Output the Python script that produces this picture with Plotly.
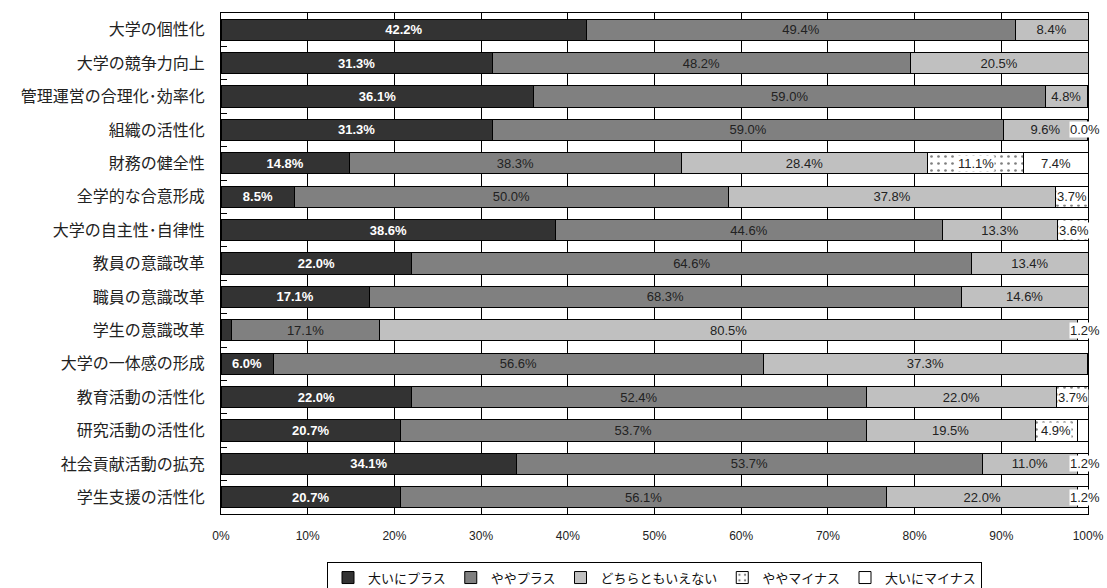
import plotly.graph_objects as go

categories = ["大学の個性化", "大学の競争力向上", "管理運営の合理化･効率化", "組織の活性化",
              "財務の健全性", "全学的な合意形成", "大学の自主性･自律性", "教員の意識改革",
              "職員の意識改革", "学生の意識改革", "大学の一体感の形成", "教育活動の活性化",
              "研究活動の活性化", "社会貢献活動の拡充", "学生支援の活性化"]
series_names = ["大いにプラス", "ややプラス", "どちらともいえない", "ややマイナス", "大いにマイナス"]
s1 = [42.2, 31.3, 36.1, 31.3, 14.8, 8.5, 38.6, 22.0, 17.1, 1.2, 6.0, 22.0, 20.7, 34.1, 20.7]
s2 = [49.4, 48.2, 59.0, 59.0, 38.3, 50.0, 44.6, 64.6, 68.3, 17.1, 56.6, 52.4, 53.7, 53.7, 56.1]
s3 = [8.4, 20.5, 4.8, 9.6, 28.4, 37.8, 13.3, 13.4, 14.6, 80.5, 37.3, 22.0, 19.5, 11.0, 22.0]
s4 = [None, None, None, None, 11.1, 3.7, 3.6, None, None, None, None, 3.7, 4.9, None, None]
s5 = [None, None, None, 0.0, 7.4, None, None, None, None, 1.2, None, None, 1.2, 1.2, 1.2]
hidden_labels = [(0, 9), (4, 12)]  # (series index, category index) without a label
x_ticks = [0, 10, 20, 30, 40, 50, 60, 70, 80, 90, 100]

series = [s1, s2, s3, s4, s5]
colors = ["#333333", "#808080", "#C0C0C0", "#FFFFFF", "#FFFFFF"]
lab_font = "Liberation Sans, Arial, sans-serif"
jp_font = "Noto Sans CJK JP, sans-serif"
LABEL_MAX_X = 97.8  # keep outside labels inside the figure

fig = go.Figure()
for si, (name, vals, col) in enumerate(zip(series_names, series, colors)):
    texts = []
    for ci, v in enumerate(vals):
        if v is None or si >= 3 or (si, ci) in hidden_labels:
            texts.append("")
        else:
            texts.append(f"{v:.1f}%")
    marker = dict(color=col, line=dict(color="#000000", width=1))
    if si == 3:
        marker["pattern"] = dict(shape=".", fgcolor="#000000", bgcolor="#FFFFFF",
                                 size=7, solidity=0.12)
    fig.add_trace(go.Bar(
        y=categories, x=[v if v is not None else 0 for v in vals], name=name,
        orientation="h", marker=marker, text=texts,
        textposition="inside", insidetextanchor="middle", textangle=0,
        textfont=dict(family=lab_font, size=13,
                      color="#FFFFFF" if si == 0 else "#222222",
                      weight="bold" if si == 0 else "normal"),
        hoverinfo="skip",
    ))

# labels for the minus series (white background boxes)
annotations = []
for ci, cat in enumerate(categories):
    start = s1[ci] + s2[ci] + s3[ci]
    for si in (3, 4):
        v = series[si][ci]
        if v is None:
            continue
        if (si, ci) not in hidden_labels:
            big = v >= 4
            annotations.append(dict(x=start + v / 2 if big else min(start, LABEL_MAX_X),
                                    y=cat, xref="x", yref="y",
                                    text=f"{v:.1f}%", showarrow=False,
                                    xanchor="center" if big else "left",
                                    bgcolor="#FFFFFF", borderpad=0,
                                    font=dict(family=lab_font, size=13, color="#222222")))
        start += v

fig.update_layout(
    barmode="stack",
    bargap=0.37,
    width=1107, height=588,
    margin=dict(l=221, r=19, t=13, b=74, autoexpand=False),
    paper_bgcolor="#FFFFFF", plot_bgcolor="#FFFFFF",
    uniformtext=dict(minsize=13, mode="show"),
    annotations=annotations,
    legend=dict(orientation="h", x=0.5, xanchor="center", y=-0.095, yanchor="top",
                bordercolor="#000000", borderwidth=1, bgcolor="#FFFFFF",
                font=dict(family=jp_font, size=13, color="#111111"),
                itemwidth=30, traceorder="normal"),
    xaxis=dict(range=[0, 100], tickvals=x_ticks, ticktext=[f"{t}%" for t in x_ticks],
               showgrid=True, gridcolor="#000000", gridwidth=1, automargin=False,
               showline=True, linecolor="#000000", linewidth=1, mirror=True,
               ticks="", zeroline=False, ticklabelstandoff=11,
               tickfont=dict(family=lab_font, size=12, color="#222222")),
    yaxis=dict(autorange="reversed", showgrid=False, automargin=False,
               showline=True, linecolor="#000000", linewidth=1, mirror=True,
               ticks="inside", tickson="boundaries", ticklen=6, tickcolor="#000000",
               ticklabelstandoff=12,
               tickfont=dict(family=jp_font, size=16, color="#222222")),
)

fig.write_html("out.html")
